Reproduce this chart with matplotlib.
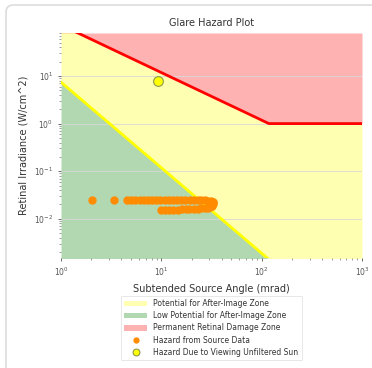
import numpy as np
import matplotlib.pyplot as plt
from matplotlib.patches import FancyBboxPatch

# threshold curves (subtended angle in mrad, irradiance W/cm^2)
angle_grid = [1.0, 118.0, 1000.0]
burn_line = [118.0, 1.0, 1.0]
afterimage_line = [7.4, 0.0014, 0.00003]

# hazard from source data
src_angle = [2.05, 3.4, 4.5, 5.0, 5.5, 6.1, 6.7, 7.4, 8.1, 8.9, 9.8, 10.8, 11.9,
             13.1, 14.4, 15.8, 17.4, 19.1, 21.0, 23.0, 25.0, 27.0, 29.0, 31.0, 32.5,
             33.0, 33.0, 32.0, 30.5,
             29.0, 27.0, 25.0, 23.0, 21.0, 19.0, 17.5, 16.0, 14.5, 13.0, 12.0, 11.0, 10.0]
src_irr = [0.025, 0.025, 0.025, 0.025, 0.025, 0.025, 0.025, 0.025, 0.025, 0.025, 0.025, 0.025, 0.025,
           0.025, 0.025, 0.025, 0.025, 0.025, 0.025, 0.0248, 0.0245, 0.0243, 0.024, 0.0235, 0.023,
           0.022, 0.020, 0.0185, 0.0175,
           0.017, 0.0168, 0.0165, 0.0163, 0.016, 0.016, 0.0158, 0.0157, 0.0156, 0.0155, 0.0155, 0.0153, 0.0155]

# unfiltered sun
sun_angle = [9.3]
sun_irr = [7.8]

ylo, yhi = 0.0015, 80

fig = plt.figure(figsize=(3.72, 3.68), dpi=100)
# card outline
card = FancyBboxPatch((6 / 372, -0.2), 1.5, 1.2 - 5 / 368, boxstyle="round,pad=0,rounding_size=0.02",
                      transform=fig.transFigure, fc="none", ec="#dddddd", lw=1.2)
fig.patches.append(card)

ax = fig.add_axes([61 / 372, 110 / 368, 301 / 372, 225 / 368])

ax.fill_between(angle_grid, burn_line, yhi, color="red", alpha=0.3, lw=0,
                label="Permanent Retinal Damage Zone")
ax.fill_between(angle_grid, afterimage_line, burn_line, color="yellow", alpha=0.3, lw=0,
                label="Potential for After-Image Zone")
ax.fill_between(angle_grid, ylo / 10, afterimage_line, color="green", alpha=0.3, lw=0,
                label="Low Potential for After-Image Zone")
ax.plot(angle_grid, burn_line, color="red", lw=2)
ax.plot(angle_grid, afterimage_line, color="yellow", lw=2)

ax.plot(src_angle, src_irr, "o", color="#ff8c00", ms=5, ls="none", label="Hazard from Source Data")
ax.plot(sun_angle, sun_irr, "o", color="yellow", mec="#8a9a4a", mew=0.8, ms=7, ls="none",
        label="Hazard Due to Viewing Unfiltered Sun")

ax.set_xscale("log")
ax.set_yscale("log")
ax.set_xlim(1, 1000)
ax.set_ylim(ylo, yhi)
ax.grid(axis="y", which="major", color="#d8d8d8", lw=0.6)
for s in ax.spines.values():
    s.set_visible(False)
ax.tick_params(labelsize=5.5, colors="#555555", length=2, width=0.6)
ax.tick_params(which="minor", length=1.5, width=0.5, colors="#777777")

ax.set_title("Glare Hazard Plot", fontsize=7, color="#333333", pad=5)
ax.set_xlabel("Subtended Source Angle (mrad)", fontsize=7, color="#333333", labelpad=4)
ax.set_ylabel("Retinal Irradiance (W/cm^2)", fontsize=7, color="#333333", labelpad=4)

h, l = ax.get_legend_handles_labels()
order = [1, 2, 0, 3, 4]
leg = ax.legend([h[i] for i in order], [l[i] for i in order], loc="upper center",
                bbox_to_anchor=(0.5, -0.15), fontsize=5.5, frameon=True, handlelength=3,
                labelspacing=0.4, borderpad=0.5, markerscale=0.7)
leg.get_frame().set_edgecolor("#dddddd")
leg.get_frame().set_linewidth(0.6)
for t in leg.get_texts():
    t.set_color("#333333")

fig.savefig("out.png", dpi=100)
